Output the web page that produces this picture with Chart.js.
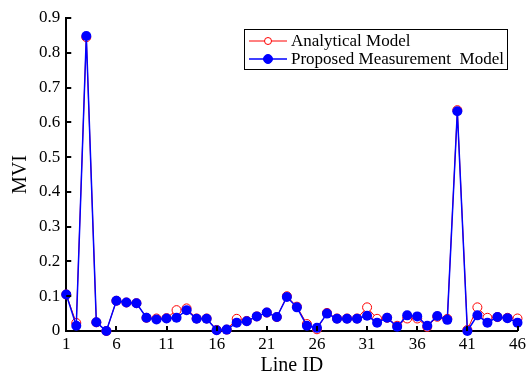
<!DOCTYPE html>
<html>
<head>
<meta charset="utf-8">
<script src="https://cdn.jsdelivr.net/npm/chart.js@4.4.0/dist/chart.umd.min.js"></script>
<style>
  html, body { margin: 0; padding: 0; background: #fff; }
  #wrap { width: 531px; height: 374px; }
</style>
</head>
<body>
<div id="wrap"><canvas id="chart"></canvas></div>
<script>
// data
const lineIds = [1, 2, 3, 4, 5, 6, 7, 8, 9, 10, 11, 12, 13, 14, 15, 16, 17, 18, 19, 20, 21, 22, 23,
  24, 25, 26, 27, 28, 29, 30, 31, 32, 33, 34, 35, 36, 37, 38, 39, 40, 41, 42, 43, 44, 45, 46];
const analytical = [0.105, 0.023, 0.845, 0.025, 0.0, 0.087, 0.082, 0.08, 0.038, 0.036, 0.037, 0.06,
  0.065, 0.036, 0.036, 0.003, 0.004, 0.035, 0.029, 0.042, 0.053, 0.04, 0.1, 0.07, 0.02, 0.005,
  0.052, 0.036, 0.036, 0.036, 0.068, 0.035, 0.038, 0.015, 0.036, 0.036, 0.012, 0.041, 0.035,
  0.635, 0.003, 0.068, 0.038, 0.04, 0.038, 0.036];
const proposed = [0.105, 0.015, 0.848, 0.025, 0.0, 0.087, 0.082, 0.08, 0.038, 0.033, 0.036, 0.038,
  0.06, 0.035, 0.035, 0.002, 0.004, 0.024, 0.028, 0.042, 0.053, 0.04, 0.098, 0.068, 0.015, 0.009,
  0.05, 0.035, 0.035, 0.035, 0.044, 0.024, 0.038, 0.012, 0.045, 0.042, 0.015, 0.043, 0.032,
  0.632, 0.0, 0.045, 0.024, 0.04, 0.037, 0.024];
const xTicks = [1, 6, 11, 16, 21, 26, 31, 36, 41, 46];
const yTicks = [0, 0.1, 0.2, 0.3, 0.4, 0.5, 0.6, 0.7, 0.8, 0.9];

const serif = '"Liberation Serif", "Times New Roman", serif';

// ticks pointing into the plot
const innerTicks = {
  id: "innerTicks",
  afterDraw(chart) {
    const { ctx, chartArea: a } = chart;
    const x = chart.scales.x, y = chart.scales.y;
    ctx.save();
    ctx.strokeStyle = "#000";
    ctx.lineWidth = 2;
    ctx.beginPath();
    x.ticks.forEach(t => {
      const px = Math.round(x.getPixelForValue(t.value));
      ctx.moveTo(px, a.bottom);
      ctx.lineTo(px, a.bottom - 5);
    });
    y.ticks.forEach(t => {
      const py = Math.round(y.getPixelForValue(t.value));
      ctx.moveTo(a.left, py);
      ctx.lineTo(a.left + 5, py);
    });
    ctx.stroke();
    ctx.restore();
  }
};

// boxed legend with line + marker samples
const boxLegend = {
  id: "boxLegend",
  afterDraw(chart) {
    const { ctx, chartArea: a } = chart;
    const sets = chart.data.datasets;
    ctx.save();
    ctx.font = "17px " + serif;
    const w = Math.max(...sets.map(d => ctx.measureText(d.label).width));
    const boxW = Math.round(w + 50), boxH = 40;
    const right = Math.round(a.right - 11), top = Math.round(a.top + 11);
    const left = right - boxW;
    ctx.fillStyle = "#fff";
    ctx.fillRect(left, top, boxW, boxH);
    ctx.strokeStyle = "#000";
    ctx.lineWidth = 1;
    ctx.strokeRect(left + 0.5, top + 0.5, boxW, boxH);
    sets.forEach((d, i) => {
      const yy = top + 12 + i * 18;
      ctx.strokeStyle = d.borderColor;
      ctx.lineWidth = d.borderWidth;
      ctx.beginPath();
      ctx.moveTo(left + 5, yy);
      ctx.lineTo(left + 43, yy);
      ctx.stroke();
      ctx.beginPath();
      ctx.arc(left + 24, yy, i === 0 ? 3.5 : 4.5, 0, Math.PI * 2);
      ctx.fillStyle = d.pointBackgroundColor;
      ctx.fill();
      ctx.lineWidth = 1;
      ctx.strokeStyle = d.pointBorderColor;
      ctx.stroke();
      ctx.fillStyle = "#000";
      ctx.textBaseline = "middle";
      ctx.fillText(d.label, left + 47, yy + 1);
    });
    ctx.restore();
  }
};

const toXY = arr => arr.map((v, i) => ({ x: lineIds[i], y: v }));

new Chart(document.getElementById("chart"), {
  type: "line",
  data: {
    datasets: [
      {
        label: "Analytical Model",
        data: toXY(analytical),
        borderColor: "#ff0000",
        borderWidth: 1,
        pointRadius: 4.5,
        pointBorderWidth: 1,
        pointBackgroundColor: "#ffffff",
        pointBorderColor: "#ff0000",
        clip: false,
        order: 2
      },
      {
        label: "Proposed Measurement  Model",
        data: toXY(proposed),
        borderColor: "#0000ff",
        borderWidth: 1.5,
        pointRadius: 5,
        pointBorderWidth: 0,
        pointBackgroundColor: "#0000ff",
        pointBorderColor: "#0000ff",
        clip: false,
        order: 1
      }
    ]
  },
  options: {
    responsive: true,
    maintainAspectRatio: false,
    animation: false,
    layout: { padding: { top: 18, right: 7, left: 11, bottom: 0 } },
    plugins: { legend: { display: false }, tooltip: { enabled: false } },
    scales: {
      x: {
        type: "linear",
        min: 1,
        max: 46,
        afterBuildTicks: s => { s.ticks = xTicks.map(v => ({ value: v })); },
        grid: { display: false, drawTicks: false },
        border: { display: true, color: "#000", width: 2 },
        ticks: { color: "#000", font: { family: serif, size: 17, lineHeight: 1 }, padding: 5, maxRotation: 0 },
        title: { display: true, text: "Line ID", color: "#000", font: { family: serif, size: 20, lineHeight: 0.8 }, padding: { top: 0, bottom: 0 } }
      },
      y: {
        min: 0,
        max: 0.9,
        afterBuildTicks: s => { s.ticks = yTicks.map(v => ({ value: v })); },
        grid: { display: false, drawTicks: false },
        border: { display: true, color: "#000", width: 2 },
        ticks: {
          color: "#000",
          font: { family: serif, size: 17 },
          padding: 6,
          callback: v => (v === 0 ? "0" : v.toFixed(1))
        },
        title: { display: true, text: "MVI", color: "#000", font: { family: serif, size: 20, lineHeight: 1 }, padding: { top: 0, bottom: 2 } }
      }
    }
  },
  plugins: [innerTicks, boxLegend]
});
</script>
</body>
</html>
